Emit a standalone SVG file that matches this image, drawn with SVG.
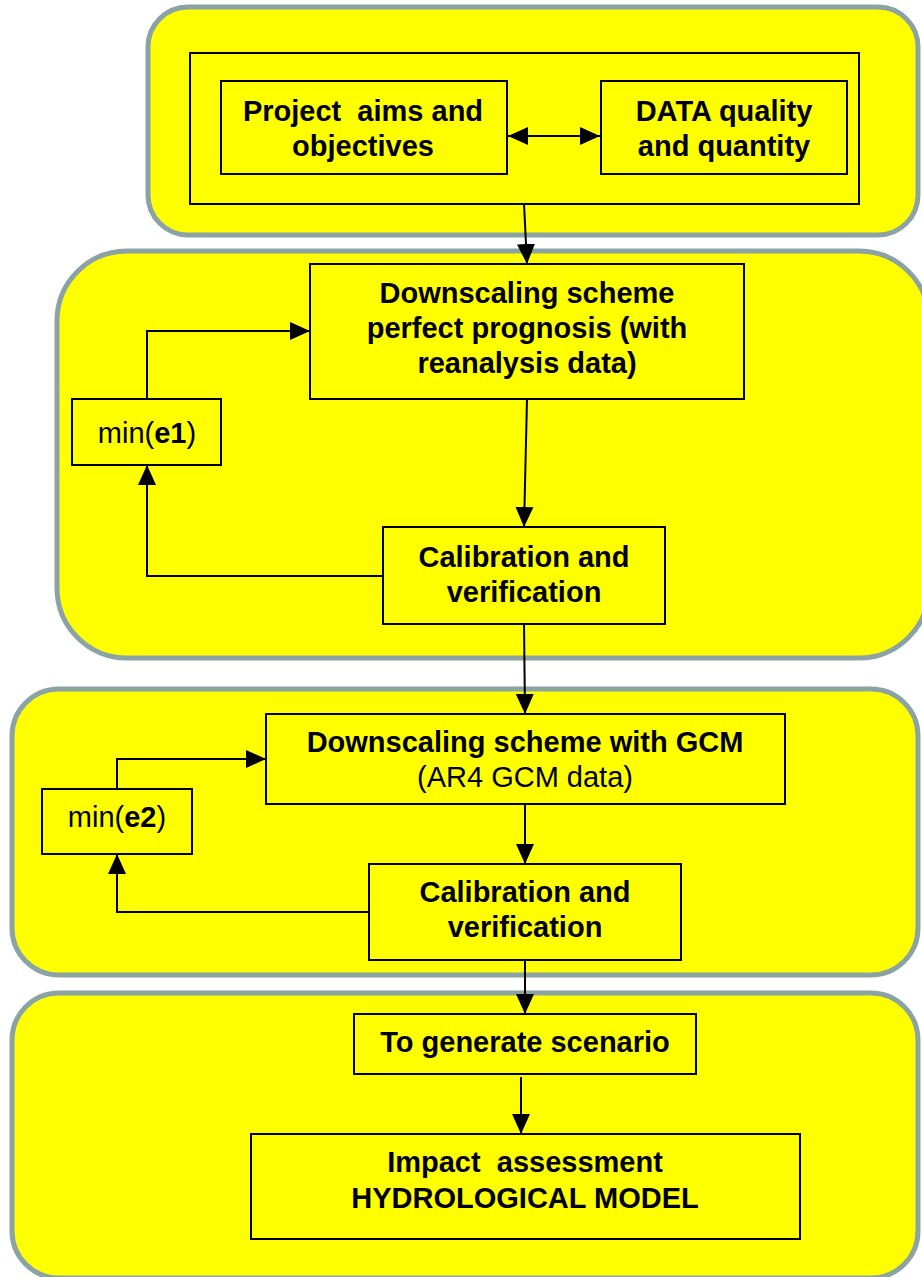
<svg xmlns="http://www.w3.org/2000/svg" width="922" height="1277" viewBox="0 0 922 1277">
  <style>
    .panel { fill: #ffff00; stroke: #8ca3a5; stroke-width: 5; }
    .box { fill: #ffff00; stroke: #000; stroke-width: 2; }
    .t { font-family: "Liberation Sans", Arial, sans-serif; font-size: 29px; fill: #000; text-anchor: middle; white-space: pre; }
    .b { font-weight: bold; }
    .conn { fill: none; stroke: #000; stroke-width: 2; }
  </style>
  <defs>
    <marker id="arrow" markerUnits="userSpaceOnUse" markerWidth="20" markerHeight="20" viewBox="0 0 20 20" refX="20" refY="10" orient="auto-start-reverse">
      <path d="M0,1 L20,10 L0,19 z" fill="#000"/>
    </marker>
  </defs>

  <!-- background panels -->
  <g id="panels">
    <rect class="panel" x="148" y="7" width="770" height="228" rx="40" ry="40"/>
    <rect class="panel" x="57" y="251" width="872" height="407" rx="70" ry="70"/>
    <rect class="panel" x="12" y="689" width="906" height="286" rx="47" ry="47"/>
    <rect class="panel" x="12" y="993" width="906" height="285" rx="47" ry="47"/>
  </g>

  <g id="frame-top">
    <rect class="box" x="190" y="53" width="669" height="151"/>
  </g>

  <g id="node-aims">
    <rect class="box" x="221" y="81" width="286" height="93"/>
    <text class="t b" x="363" y="121">Project  aims and</text>
    <text class="t b" x="363" y="156">objectives</text>
  </g>

  <g id="node-data">
    <rect class="box" x="601" y="81" width="246" height="93"/>
    <text class="t b" x="724" y="121">DATA quality</text>
    <text class="t b" x="724" y="156">and quantity</text>
  </g>

  <g id="node-pp">
    <rect class="box" x="310" y="264" width="434" height="135"/>
    <text class="t b" x="527" y="303">Downscaling scheme</text>
    <text class="t b" x="527" y="338">perfect prognosis (with</text>
    <text class="t b" x="527" y="373">reanalysis data)</text>
  </g>

  <g id="node-min-e1">
    <rect class="box" x="72" y="399" width="149" height="66"/>
    <text class="t" x="147" y="443">min(<tspan class="b">e1</tspan>)</text>
  </g>

  <g id="node-calib1">
    <rect class="box" x="383" y="527" width="282" height="97"/>
    <text class="t b" x="524" y="567">Calibration and</text>
    <text class="t b" x="524" y="602">verification</text>
  </g>

  <g id="node-gcm">
    <rect class="box" x="266" y="714" width="519" height="90"/>
    <text class="t b" x="525" y="752">Downscaling scheme with GCM</text>
    <text class="t" x="525" y="787">(AR4 GCM data)</text>
  </g>

  <g id="node-min-e2">
    <rect class="box" x="42" y="789" width="150" height="65"/>
    <text class="t" x="117" y="827">min(<tspan class="b">e2</tspan>)</text>
  </g>

  <g id="node-calib2">
    <rect class="box" x="369" y="864" width="312" height="96"/>
    <text class="t b" x="525" y="902">Calibration and</text>
    <text class="t b" x="525" y="937">verification</text>
  </g>

  <g id="node-scenario">
    <rect class="box" x="354" y="1014" width="342" height="60"/>
    <text class="t b" x="525" y="1052">To generate scenario</text>
  </g>

  <g id="node-impact">
    <rect class="box" x="251" y="1134" width="549" height="105"/>
    <text class="t b" x="525" y="1172">Impact  assessment</text>
    <text class="t b" x="525" y="1208">HYDROLOGICAL MODEL</text>
  </g>

  <!-- connectors -->
  <g id="connectors">
    <path class="conn" d="M508,136 H600" marker-start="url(#arrow)" marker-end="url(#arrow)"/>
    <path class="conn" d="M524,204 L527,264" marker-end="url(#arrow)"/>
    <path class="conn" d="M147,399 V331 H310" marker-end="url(#arrow)"/>
    <path class="conn" d="M527,399 L524,527" marker-end="url(#arrow)"/>
    <path class="conn" d="M383,576 H147 V465" marker-end="url(#arrow)"/>
    <path class="conn" d="M524,624 L525,714" marker-end="url(#arrow)"/>
    <path class="conn" d="M117,789 V759 H266" marker-end="url(#arrow)"/>
    <path class="conn" d="M525,804 V864" marker-end="url(#arrow)"/>
    <path class="conn" d="M369,912 H117 V854" marker-end="url(#arrow)"/>
    <path class="conn" d="M525,960 V1014" marker-end="url(#arrow)"/>
    <path class="conn" d="M521,1077 V1134" marker-end="url(#arrow)"/>
  </g>
</svg>
